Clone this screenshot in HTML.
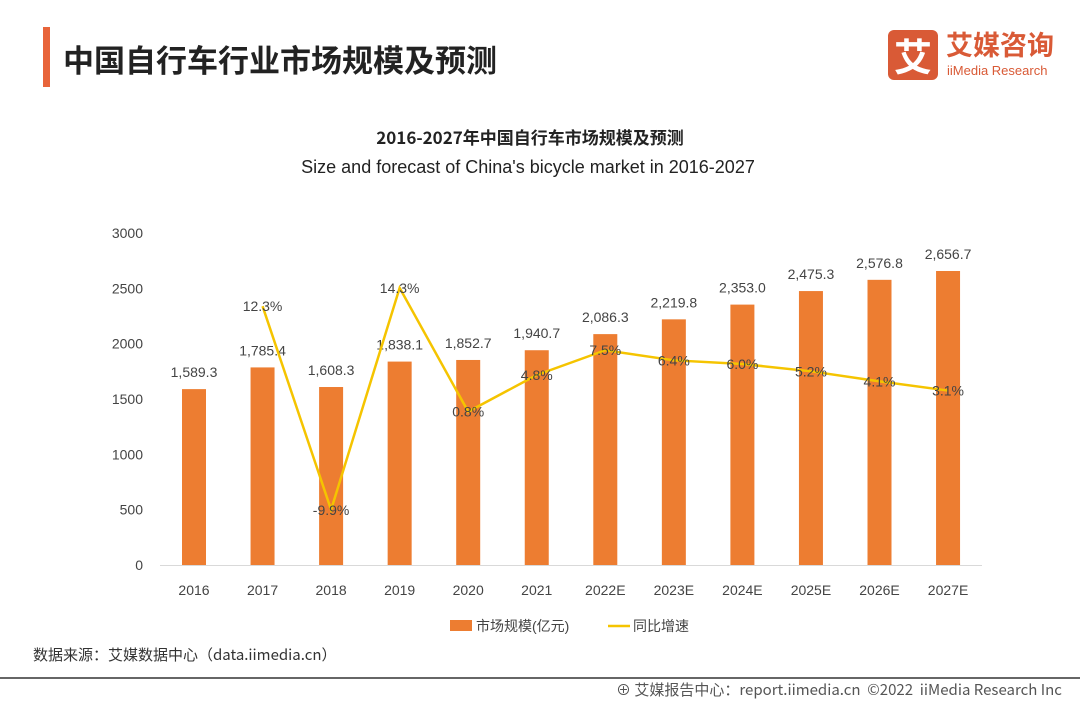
<!DOCTYPE html>
<html><head><meta charset="utf-8"><style>
body{margin:0;width:1080px;height:702px;background:#fff;overflow:hidden;font-family:"Liberation Sans","Noto Sans CJK SC",sans-serif;position:relative}
.abs{position:absolute}
</style></head><body>
<div class="abs" style="left:43px;top:27px;width:7px;height:60px;background:#e8643a"></div>
<div class="abs" style="left:63px;top:36px;font-size:31px;font-weight:bold;color:#222;font-family:'Noto Sans CJK SC',sans-serif">中国自行车行业市场规模及预测</div>
<div class="abs" style="left:888px;top:30px;width:50px;height:50px;background:#d95a36;border-radius:6px;color:#fff;font-size:38px;line-height:50px;text-align:center;font-family:'Noto Sans CJK SC',sans-serif;font-weight:bold">艾</div>
<div class="abs" style="left:946px;top:28px;color:#d95a36;font-size:27px;font-weight:bold;font-family:'Noto Sans CJK SC',sans-serif;line-height:32px">艾媒咨询</div>
<div class="abs" style="left:947px;top:63px;color:#d95a36;font-size:13px">iiMedia Research</div>
<div class="abs" style="left:0;width:1060px;text-align:center;top:124px;font-size:17px;font-weight:bold;color:#222;font-family:'Noto Sans CJK SC',sans-serif">2016-2027年中国自行车市场规模及预测</div>
<div class="abs" style="left:0;width:1056px;text-align:center;top:157px;font-size:18px;color:#222">Size and forecast of China's bicycle market in 2016-2027</div>
<svg class="abs" style="left:0;top:0" width="1080" height="702" id="chart"></svg>
<div class="abs" style="left:33px;top:644px;font-size:15px;color:#333;font-family:'Noto Sans CJK SC',sans-serif">数据来源：艾媒数据中心（data.iimedia.cn）</div>
<div class="abs" style="left:0;top:677px;width:1080px;height:2px;background:#666"></div>
<div class="abs" style="left:616px;top:679px;font-size:15px;color:#555;font-family:'Noto Sans CJK SC',sans-serif">⊕ 艾媒报告中心：report.iimedia.cn &nbsp;©2022 &nbsp;iiMedia Research Inc</div>
<script>
const categories=["2016","2017","2018","2019","2020","2021","2022E","2023E","2024E","2025E","2026E","2027E"];
const marketSize=[1589.3,1785.4,1608.3,1838.1,1852.7,1940.7,2086.3,2219.8,2353.0,2475.3,2576.8,2656.7];
const growth=[null,12.3,-9.9,14.3,0.8,4.8,7.5,6.4,6.0,5.2,4.1,3.1];
const yTicks=[0,500,1000,1500,2000,2500,3000];
const NS="http://www.w3.org/2000/svg";
const svg=document.getElementById('chart');
const x=i=>194+i*68.55;
const y=v=>565-v*(332/3000);
const y2=v=>419-v*9.17;
function mk(t,a){const e=document.createElementNS(NS,t);for(const k in a)e.setAttribute(k,a[k]);svg.appendChild(e);return e;}
yTicks.forEach(v=>{const t=mk('text',{x:143,y:y(v)+5,'text-anchor':'end','font-size':14,fill:'#444'});t.textContent=v;

});
const ax=mk('line',{x1:160,x2:982,y1:565.5,y2:565.5,stroke:'#d9d9d9'});


categories.forEach((c,i)=>{
const r=mk('rect',{x:x(i)-12,y:y(marketSize[i]),width:24,height:565-y(marketSize[i]),fill:'#ed7d31'});


const l=mk('text',{x:x(i),y:y(marketSize[i])-12,'text-anchor':'middle','font-size':14,fill:'#444'});
l.textContent=marketSize[i].toLocaleString('en-US',{minimumFractionDigits:1,maximumFractionDigits:1});


const xt=mk('text',{x:x(i),y:595,'text-anchor':'middle','font-size':14,fill:'#444'});
xt.textContent=c;


});
let pts=[];growth.forEach((g,i)=>{if(g!==null)pts.push(x(i)+','+y2(g));});
const pl=mk('polyline',{points:pts.join(' '),fill:'none',stroke:'#f5c400','stroke-width':2.5});


growth.forEach((g,i)=>{if(g===null)return;
const t=mk('text',{x:x(i),y:y2(g)+5,'text-anchor':'middle','font-size':14,fill:'#444'});
t.textContent=g.toFixed(1)+'%';

});
const lr=mk('rect',{x:450,y:620,width:22,height:11,fill:'#ed7d31'});


const lt=mk('text',{x:476,y:631,'font-size':14,fill:'#444'});lt.textContent='市场规模(亿元)';


const ll=mk('line',{x1:608,x2:630,y1:626,y2:626,stroke:'#f5c400','stroke-width':2.5});


const lt2=mk('text',{x:633,y:631,'font-size':14,fill:'#444'});lt2.textContent='同比增速';


</script>
</body></html>
